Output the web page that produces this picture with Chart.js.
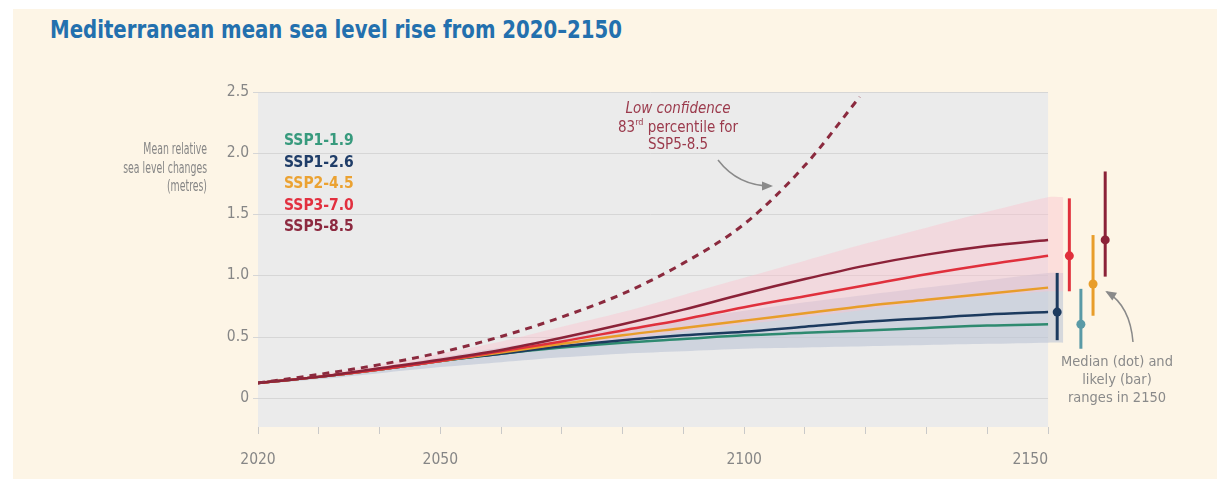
<!DOCTYPE html>
<html>
<head>
<meta charset="utf-8">
<script src="https://cdn.jsdelivr.net/npm/chart.js@4"></script>
<style>
  body { margin: 0; background: #fff; }
  #panel { position: absolute; left: 13px; top: 9px; width: 1204px; height: 470px; background: #fdf5e6; }
  #title { position: absolute; left: 50px; top: 15px; white-space: nowrap; font: bold 25px/30px "DejaVu Sans Condensed", sans-serif; color: #2370ae; transform: scaleX(0.877); transform-origin: 0 0; }
  #chart { position: absolute; left: 0; top: 0; }
</style>
</head>
<body>
<div id="panel"></div>
<div id="title">Mediterranean mean sea level rise from 2020–2150</div>
<canvas id="chart" width="1217" height="479"></canvas>
<script>
// years and median projections per scenario (metres)
const years = [2020, 2030, 2040, 2050, 2060, 2070, 2080, 2090, 2100, 2110, 2120, 2130, 2140, 2150];
const ssp119 = [0.12, 0.17, 0.23, 0.30, 0.36, 0.41, 0.45, 0.48, 0.51, 0.53, 0.55, 0.57, 0.59, 0.60];
const ssp126 = [0.12, 0.17, 0.23, 0.30, 0.36, 0.42, 0.47, 0.51, 0.54, 0.58, 0.62, 0.65, 0.68, 0.70];
const ssp245 = [0.12, 0.17, 0.23, 0.30, 0.37, 0.44, 0.51, 0.57, 0.63, 0.69, 0.75, 0.80, 0.85, 0.90];
const ssp370 = [0.12, 0.17, 0.23, 0.30, 0.38, 0.46, 0.55, 0.64, 0.74, 0.83, 0.92, 1.01, 1.09, 1.16];
const ssp585 = [0.12, 0.17, 0.24, 0.31, 0.39, 0.49, 0.60, 0.72, 0.85, 0.97, 1.08, 1.17, 1.24, 1.29];

// low confidence 83rd percentile SSP5-8.5
const lowConfYears = [2020, 2030, 2040, 2050, 2060, 2070, 2080, 2090, 2100, 2110, 2119];
const lowConf = [0.12, 0.19, 0.27, 0.37, 0.50, 0.66, 0.85, 1.10, 1.42, 1.90, 2.46];

// shaded likely ranges (low / high emission groups)
const bandYears = [2020, 2030, 2040, 2050, 2060, 2070, 2080, 2090, 2100, 2110, 2120, 2130, 2140, 2150, 2152.5];
const blueLow  = [0.11, 0.15, 0.20, 0.25, 0.29, 0.33, 0.36, 0.38, 0.40, 0.41, 0.42, 0.43, 0.44, 0.45, 0.45];
const blueHigh = [0.12, 0.18, 0.25, 0.33, 0.41, 0.49, 0.57, 0.64, 0.71, 0.78, 0.84, 0.90, 0.96, 1.02, 1.02];
const pinkLow  = [0.11, 0.16, 0.22, 0.29, 0.36, 0.42, 0.48, 0.54, 0.60, 0.66, 0.72, 0.78, 0.83, 0.87, 0.87];
const pinkHigh = [0.12, 0.19, 0.27, 0.36, 0.46, 0.58, 0.70, 0.84, 0.98, 1.12, 1.26, 1.39, 1.52, 1.64, 1.64];

// 2150 median (dot) and likely (bar) ranges
const rangeNames  = ['SSP1-2.6', 'SSP3-7.0', 'SSP1-1.9', 'SSP2-4.5', 'SSP5-8.5'];
const rangeSlots  = [2151.5, 2153.5, 2155.4, 2157.4, 2159.4];
const rangeLow    = [0.47, 0.87, 0.40, 0.67, 0.99];
const rangeHigh   = [1.02, 1.63, 0.89, 1.33, 1.85];
const rangeMedian = [0.70, 1.16, 0.60, 0.93, 1.29];

// axes
const yTicks = [0, 0.5, 1.0, 1.5, 2.0, 2.5];
const yTickLabels = ['0', '0.5', '1.0', '1.5', '2.0', '2.5'];
const xTickYears = [2020, 2030, 2040, 2050, 2060, 2070, 2080, 2090, 2100, 2110, 2120, 2130, 2140, 2150];
const xLabelYears = [2020, 2050, 2100, 2150];

const legendNames = ['SSP1-1.9', 'SSP1-2.6', 'SSP2-4.5', 'SSP3-7.0', 'SSP5-8.5'];
const legendColors = ['#379a7d', '#1f3d68', '#eba232', '#e2303f', '#8d2a40'];

const colors = {
  'SSP1-1.9': '#2e8a70', 'SSP1-2.6': '#1c3a5e', 'SSP2-4.5': '#e89d2a',
  'SSP3-7.0': '#e0303c', 'SSP5-8.5': '#8b2238'
};
const barColors = {
  'SSP1-1.9': '#5a9aa6', 'SSP1-2.6': '#1c3a5e', 'SSP2-4.5': '#e89d2a',
  'SSP3-7.0': '#e0303c', 'SSP5-8.5': '#8b2238'
};

const FONT = '"DejaVu Sans Condensed", sans-serif';
const pts = (xs, ys) => xs.map((x, i) => ({ x: x, y: ys[i] }));

function lineSet(name, data, order) {
  return {
    label: name, data: pts(years, data), borderColor: colors[name], borderWidth: 2.5,
    pointRadius: 0, cubicInterpolationMode: 'monotone', fill: false, order: order
  };
}

const datasets = [
  { data: pts(bandYears, blueLow), borderWidth: 0, pointRadius: 0, fill: false, order: 30, tension: 0.3 },
  { data: pts(bandYears, blueHigh), borderWidth: 0, pointRadius: 0, fill: '-1', backgroundColor: 'rgba(188,197,214,0.6)', order: 29, tension: 0.3 },
  { data: pts(bandYears, pinkLow), borderWidth: 0, pointRadius: 0, fill: false, order: 28, tension: 0.3 },
  { data: pts(bandYears, pinkHigh), borderWidth: 0, pointRadius: 0, fill: '-1', backgroundColor: 'rgba(250,196,206,0.45)', order: 27, tension: 0.3 },
  lineSet('SSP1-1.9', ssp119, 15),
  lineSet('SSP1-2.6', ssp126, 14),
  lineSet('SSP2-4.5', ssp245, 13),
  lineSet('SSP3-7.0', ssp370, 12),
  lineSet('SSP5-8.5', ssp585, 11),
  {
    data: pts(lowConfYears, lowConf), borderColor: '#8b2a3e', borderWidth: 3, borderDash: [7, 6],
    pointRadius: 0, cubicInterpolationMode: 'monotone', fill: false, order: 10
  }
];

// vertical range bars
rangeNames.forEach((name, i) => {
  datasets.push({
    data: [{ x: rangeSlots[i], y: rangeLow[i] }, { x: rangeSlots[i], y: rangeHigh[i] }],
    borderColor: barColors[name], borderWidth: 3, pointRadius: 0, fill: false, order: 5
  });
});
// median dots
datasets.push({
  type: 'scatter',
  data: pts(rangeSlots, rangeMedian),
  pointRadius: 4.5, pointBorderWidth: 0,
  pointBackgroundColor: rangeNames.map(n => barColors[n]), order: 1
});

// text helper with horizontal squeeze
function txt(ctx, s, x, y, align, sx) {
  ctx.save();
  ctx.translate(x, y);
  ctx.scale(sx || 1, 1);
  ctx.textAlign = align;
  ctx.fillText(s, 0, 0);
  ctx.restore();
}

// gray plot background, grid lines, and all the free text
const decor = {
  id: 'decor',
  beforeDraw(chart) {
    const { ctx, chartArea, scales } = chart;
    const x0 = scales.x.getPixelForValue(2020), x1 = scales.x.getPixelForValue(2150);
    ctx.save();
    ctx.fillStyle = '#ebebeb';
    ctx.fillRect(x0, chartArea.top, x1 - x0, chartArea.bottom - chartArea.top);
    ctx.restore();
  },
  beforeDatasetsDraw(chart) {
    const { ctx, chartArea, scales } = chart;
    const x1 = scales.x.getPixelForValue(2150);
    ctx.save();
    ctx.strokeStyle = '#d6d6d6';
    ctx.lineWidth = 1;
    yTicks.forEach(v => {
      const y = Math.round(scales.y.getPixelForValue(v)) + 0.5;
      ctx.beginPath();
      ctx.moveTo(chartArea.left - 5, y);
      ctx.lineTo(x1, y);
      ctx.stroke();
    });
    ctx.restore();
  },
  afterDraw(chart) {
    const { ctx, scales, chartArea } = chart;
    ctx.save();
    ctx.textBaseline = 'middle';

    // tick labels
    ctx.fillStyle = '#868686';
    ctx.font = '15.5px ' + FONT;
    xLabelYears.forEach((yr, i) => {
      txt(ctx, String(yr), scales.x.getPixelForValue(yr), 460, i === xLabelYears.length - 1 ? 'right' : 'center');
    });
    yTicks.forEach((v, i) => {
      txt(ctx, yTickLabels[i], chartArea.left - 9, scales.y.getPixelForValue(v), 'right');
    });

    // y axis title
    ctx.font = '15.5px ' + FONT;
    ['Mean relative', 'sea level changes', '(metres)'].forEach((t, i) => {
      txt(ctx, t, 207, 150 + i * 18.5, 'right', 0.67);
    });

    // legend
    ctx.font = 'bold 15.5px ' + FONT;
    legendNames.forEach((n, i) => {
      ctx.fillStyle = legendColors[i];
      txt(ctx, n, 284, 141 + i * 21.5, 'left');
    });

    // low confidence note
    ctx.fillStyle = '#9b3a4c';
    ctx.font = 'italic 15px ' + FONT;
    txt(ctx, 'Low confidence', 678, 109, 'center');
    ctx.font = '15px ' + FONT;
    txt(ctx, 'SSP5-8.5', 678, 145, 'center');
    const a = '83', b = 'rd', c = ' percentile for';
    const wa = ctx.measureText(a).width, wc = ctx.measureText(c).width;
    ctx.font = '9px ' + FONT;
    const wb = ctx.measureText(b).width;
    const sx = 678 - (wa + wb + wc) / 2;
    ctx.font = '15px ' + FONT;
    txt(ctx, a, sx, 128, 'left');
    ctx.font = '9px ' + FONT;
    txt(ctx, b, sx + wa, 123, 'left');
    ctx.font = '15px ' + FONT;
    txt(ctx, c, sx + wa + wb, 128, 'left');

    // range note
    ctx.fillStyle = '#8a8a8a';
    ctx.font = '14.5px ' + FONT;
    ['Median (dot) and', 'likely (bar)', 'ranges in 2150'].forEach((t, i) => {
      txt(ctx, t, 1117, 362 + i * 18, 'center');
    });

    // arrows
    drawArrow(ctx, 718, 160, 738, 186, 771, 186);
    drawArrow(ctx, 1133, 342, 1130, 306, 1107, 292);
    ctx.restore();
  }
};

function drawArrow(ctx, sx, sy, cx, cy, ex, ey) {
  ctx.strokeStyle = '#8a8a8a';
  ctx.fillStyle = '#8a8a8a';
  ctx.lineWidth = 1.5;
  ctx.beginPath();
  ctx.moveTo(sx, sy);
  ctx.quadraticCurveTo(cx, cy, ex, ey);
  ctx.stroke();
  const ang = Math.atan2(ey - cy, ex - cx);
  const L = 9, W = 4.5;
  ctx.beginPath();
  ctx.moveTo(ex + Math.cos(ang) * 2, ey + Math.sin(ang) * 2);
  ctx.lineTo(ex - Math.cos(ang) * L + Math.sin(ang) * W, ey - Math.sin(ang) * L - Math.cos(ang) * W);
  ctx.lineTo(ex - Math.cos(ang) * L - Math.sin(ang) * W, ey - Math.sin(ang) * L + Math.cos(ang) * W);
  ctx.closePath();
  ctx.fill();
}

new Chart(document.getElementById('chart').getContext('2d'), {
  type: 'line',
  data: { datasets: datasets },
  options: {
    responsive: false,
    animation: false,
    layout: { padding: { left: 248, right: 96, top: 92, bottom: 0 } },
    plugins: { legend: { display: false }, tooltip: { enabled: false } },
    scales: {
      x: {
        type: 'linear', min: 2020, max: 2162,
        afterBuildTicks: ax => { ax.ticks = xTickYears.map(v => ({ value: v })); },
        afterFit: s => { s.height = 52; },
        grid: { drawOnChartArea: false, drawTicks: true, tickLength: 7, color: '#c9c9c9' },
        border: { display: false },
        ticks: { display: false }
      },
      y: {
        min: -0.24, max: 2.5,
        afterBuildTicks: ax => { ax.ticks = yTicks.map(v => ({ value: v })); },
        afterFit: s => { s.width = 10; },
        grid: { display: false },
        border: { display: false },
        ticks: { display: false }
      }
    }
  },
  plugins: [decor]
});
</script>
</body>
</html>
